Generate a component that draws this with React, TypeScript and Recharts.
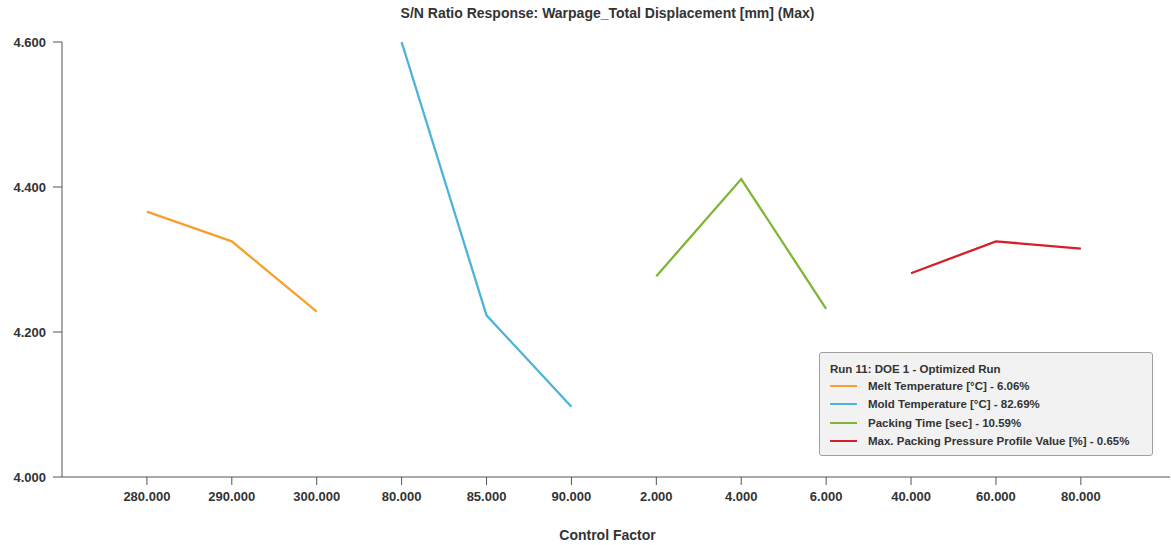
import { LineChart, Line, XAxis, YAxis } from "recharts";

const xLabels = [
  "280.000", "290.000", "300.000",
  "80.000", "85.000", "90.000",
  "2.000", "4.000", "6.000",
  "40.000", "60.000", "80.000",
];
const yTicks = [4.0, 4.2, 4.4, 4.6];

const meltTemp = [4.366, 4.325, 4.228];
const moldTemp = [4.6, 4.223, 4.097];
const packTime = [4.277, 4.411, 4.232];
const packPressure = [4.281, 4.325, 4.315];

const series = [
  { name: "Melt Temperature [°C] - 6.06%", color: "#f6a030", values: meltTemp },
  { name: "Mold Temperature [°C] - 82.69%", color: "#4db3db", values: moldTemp },
  { name: "Packing Time [sec] - 10.59%", color: "#80b535", values: packTime },
  { name: "Max. Packing Pressure Profile Value [%] - 0.65%", color: "#d5202a", values: packPressure },
];

// each factor occupies three consecutive slots on the shared category axis
const lines = series.map((s, i) => ({
  ...s,
  data: s.values.map((v, j) => ({ x: i * 3 + j + 1, y: v })),
}));

const font = "'Liberation Sans', Arial, sans-serif";
const tickStyle = { fill: "#333", fontSize: 13, fontWeight: 700, fontFamily: font };

function LegendBox() {
  return (
    <div
      style={{
        position: "absolute",
        left: 819,
        top: 352,
        width: 334,
        height: 104,
        boxSizing: "border-box",
        background: "#f2f2f2",
        border: "1px solid #a0a0a0",
        borderRadius: 3,
        padding: "9px 0 0 10px",
        fontFamily: font,
        fontSize: 11.5,
        fontWeight: 700,
        color: "#333",
        textAlign: "left",
      }}
    >
      <div style={{ height: 15, lineHeight: "14px" }}>Run 11: DOE 1 - Optimized Run</div>
      {series.map((s) => (
        <div key={s.name} style={{ display: "flex", alignItems: "center", height: 18.3 }}>
          <span style={{ width: 27, height: 2, background: s.color, marginRight: 11 }} />
          <span>{s.name}</span>
        </div>
      ))}
    </div>
  );
}

export default function App() {
  return (
    <div style={{ position: "absolute", left: 0, top: 0, width: 1171, height: 545, background: "#fff" }}>
      <div
        style={{
          position: "absolute",
          top: 5,
          left: 0,
          width: 1215,
          textAlign: "center",
          fontFamily: font,
          fontSize: 14,
          fontWeight: 700,
          color: "#333",
        }}
      >
        S/N Ratio Response: Warpage_Total Displacement [mm] (Max)
      </div>
      <LineChart width={1171} height={545} margin={{ top: 42, right: 1, bottom: 38, left: 0 }}>
        <XAxis
          dataKey="x"
          type="number"
          domain={[0, 13.05]}
          ticks={[1, 2, 3, 4, 5, 6, 7, 8, 9, 10, 11, 12]}
          tickFormatter={(v) => xLabels[v - 1]}
          tick={tickStyle}
          stroke="#555"
          tickSize={8}
          tickMargin={7}
          height={30}
          allowDuplicatedCategory={false}
        />
        <YAxis
          type="number"
          domain={[4.0, 4.6]}
          ticks={yTicks}
          tickFormatter={(v) => Number(v).toFixed(3)}
          tick={tickStyle}
          stroke="#555"
          tickSize={9}
          tickMargin={7}
          width={62}
        />
        {lines.map((s) => (
          <Line
            key={s.name}
            data={s.data}
            dataKey="y"
            name={s.name}
            stroke={s.color}
            strokeWidth={2.3}
            dot={false}
            activeDot={false}
            isAnimationActive={false}
          />
        ))}
      </LineChart>
      <LegendBox />
      <div
        style={{
          position: "absolute",
          top: 527,
          left: 0,
          width: 1215,
          textAlign: "center",
          fontFamily: font,
          fontSize: 14,
          fontWeight: 700,
          color: "#333",
        }}
      >
        Control Factor
      </div>
    </div>
  );
}
